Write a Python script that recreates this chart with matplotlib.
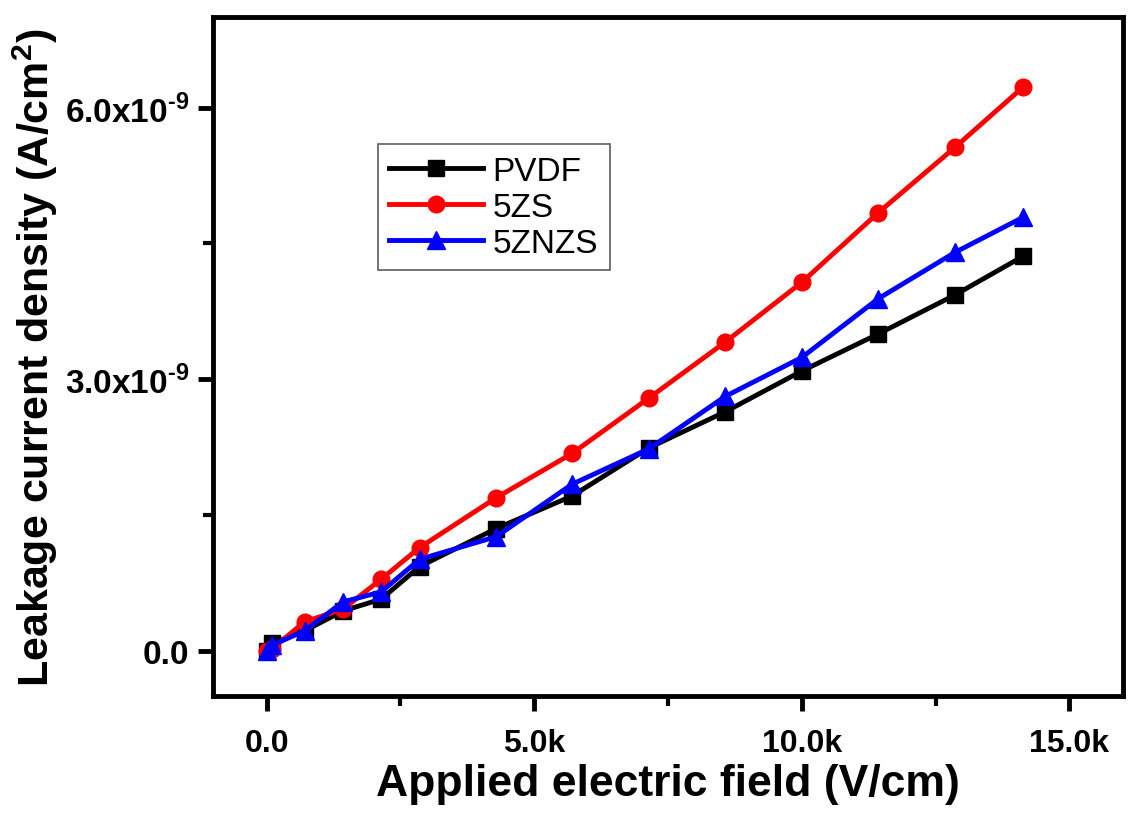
import numpy as np
import matplotlib
matplotlib.use('Agg')
import matplotlib.pyplot as plt
from matplotlib.ticker import MultipleLocator

# field (V/cm)
field = [0, 100, 710, 1430, 2140, 2860, 4290, 5710, 7140, 8570, 10000, 11430, 12860, 14140]
# leakage current density (x1e-9 A/cm^2)
pvdf = [0.0, 0.08, 0.22, 0.44, 0.57, 0.93, 1.35, 1.71, 2.24, 2.64, 3.09, 3.50, 3.93, 4.36]
zs5 = [0.0, 0.02, 0.32, 0.46, 0.79, 1.14, 1.69, 2.18, 2.79, 3.41, 4.07, 4.84, 5.56, 6.23]
znzs5 = [0.0, 0.06, 0.22, 0.54, 0.65, 1.01, 1.26, 1.84, 2.23, 2.81, 3.24, 3.89, 4.40, 4.79]
scale = 1e-9

xticks = [0, 5000, 10000, 15000]
xtick_labels = ['0.0', '5.0k', '10.0k', '15.0k']
yticks = [0, 3e-9, 6e-9]
ytick_labels = ['0.0', r'3.0x10$^{\mathbf{\text{-}9}}$', r'6.0x10$^{\mathbf{\text{-}9}}$']

plt.rcParams['font.family'] = ['Liberation Sans', 'DejaVu Sans']
plt.rcParams['mathtext.fontset'] = 'custom'
plt.rcParams['mathtext.bf'] = 'Liberation Sans:bold'
plt.rcParams['mathtext.rm'] = 'Liberation Sans:bold'

fig = plt.figure(figsize=(11.29, 8.2), dpi=100)
ax = fig.add_axes([0.1887, 0.15, 0.806, 0.828])

ax.plot(field, np.array(pvdf) * scale, '-s', color='black', lw=3.5, ms=11, label='PVDF')
ax.plot(field, np.array(zs5) * scale, '-o', color='#ff0000', lw=3.5, ms=12, label='5ZS')
ax.plot(field, np.array(znzs5) * scale, '-^', color='#0000ff', lw=3.5, ms=13, label='5ZNZS')

ax.set_xlim(-1000, 16000)
ax.set_ylim(-0.5e-9, 7e-9)
ax.set_xticks(xticks)
ax.set_xticklabels(xtick_labels, fontsize=23, fontweight='bold')
ax.set_yticks(yticks)
ax.set_yticklabels(ytick_labels, fontsize=24, fontweight='bold')
ax.xaxis.set_minor_locator(MultipleLocator(2500))
ax.yaxis.set_minor_locator(MultipleLocator(1.5e-9))
ax.tick_params(which='major', direction='out', length=11, width=3.5)
ax.tick_params(axis='x', which='major', pad=12)
ax.tick_params(axis='y', which='major', pad=6)
ax.tick_params(which='minor', direction='out', length=7, width=3)
ax.tick_params(top=False, right=False)
for s in ax.spines.values():
    s.set_linewidth(3.5)

ax.set_xlabel('Applied electric field (V/cm)', fontsize=32, fontweight='bold', labelpad=4)
ax.set_ylabel(r'Leakage current density (A/cm$^{\mathbf{2}}$)', fontsize=31, fontweight='bold', labelpad=4)

leg = ax.legend(loc='upper left', bbox_to_anchor=(0.181, 0.813), fontsize=24, frameon=True,
                fancybox=False, edgecolor='#333333', handlelength=2.8, borderpad=0.35,
                labelspacing=0.15, handletextpad=0.3, borderaxespad=0)
leg.get_frame().set_linewidth(1.2)

fig.savefig('out.png', dpi=100)
